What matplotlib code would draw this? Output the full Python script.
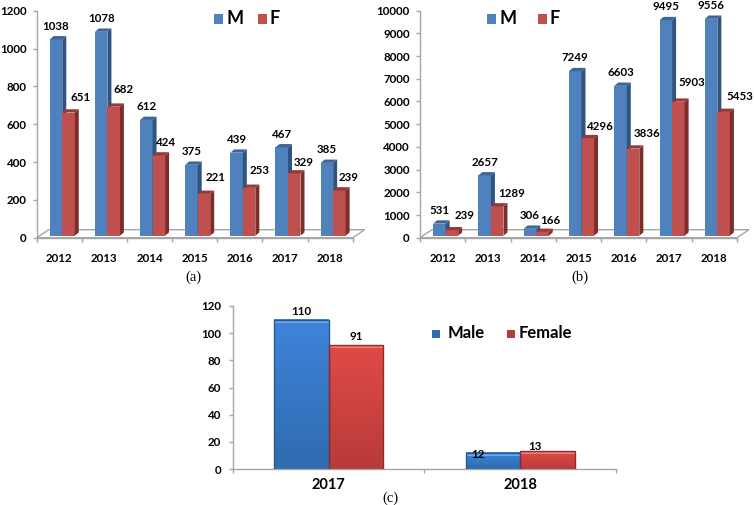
"""Three-panel male / female yearly counts, Excel style pseudo-3D bars."""
import matplotlib
matplotlib.use("Agg")
import matplotlib.pyplot as plt
import numpy as np
from matplotlib.patches import Polygon, Rectangle
from matplotlib.transforms import Affine2D, IdentityTransform

W, H = 754, 505

YEARS = ["2012", "2013", "2014", "2015", "2016", "2017", "2018"]

A_MALE = [1038, 1078, 612, 375, 439, 467, 385]
A_FEMALE = [651, 682, 424, 221, 253, 329, 239]
A_TICKS = [0, 200, 400, 600, 800, 1000, 1200]

B_MALE = [531, 2657, 306, 7249, 6603, 9495, 9556]
B_FEMALE = [239, 1289, 166, 4296, 3836, 5903, 5453]
B_TICKS = [0, 1000, 2000, 3000, 4000, 5000, 6000, 7000, 8000, 9000, 10000]

C_YEARS = ["2017", "2018"]
C_MALE = [110, 12]
C_FEMALE = [91, 13]
C_TICKS = [0, 20, 40, 60, 80, 100, 120]

# hand placed label offsets (pixels from the top of the bar front)
A_F_LABEL_OFFSETS = [(12, 15), (10, 17), (7, 13), (12, 16), (11, 17), (9, 11), (9, 13)]
B_F_LABEL_OFFSETS = [(13, 15), (14, 13), (8, 11), (13, 12), (14, 15), (14, 19), (16.5, 15)]
C_M_LABEL_OFFSETS = [(0, 8), (-15, -2)]
C_F_LABEL_OFFSETS = [(0, 9), (-13, 5)]

BLUE = ("#4f81bd", "#2f5480", "#3c6699")
RED = ("#c0504d", "#7b2e2c", "#96393a")
AXIS_GREY = "#a6a6a6"
FONT = "Lato"
TEXT_SIZE = 8.3

plt.rcParams["font.family"] = [FONT, "DejaVu Sans"]
plt.rcParams["font.weight"] = "bold"

fig = plt.figure(figsize=(W / 100, H / 100), dpi=100, facecolor="white")


def box_axes(x0, x1, y_top, y_bottom):
    ax = fig.add_axes([x0 / W, 1 - y_bottom / H, (x1 - x0) / W, (y_bottom - y_top) / H])
    ax.patch.set_alpha(0)
    for side in ("top", "right"):
        ax.spines[side].set_visible(False)
    for side in ("left", "bottom"):
        ax.spines[side].set_color(AXIS_GREY)
        ax.spines[side].set_linewidth(1.0)
    return ax


def style_axes(ax, years, ticks, year_size, year_pad):
    ax.set_xlim(0, len(years))
    ax.set_ylim(ticks[0], ticks[-1])
    ax.set_yticks(ticks)
    ax.set_xticks(np.arange(len(years) + 1))
    ax.set_xticklabels([])
    ax.set_xticks(np.arange(len(years)) + 0.5, minor=True)
    ax.set_xticklabels(years, minor=True, fontsize=year_size)
    ax.tick_params(axis="x", which="minor", length=0, pad=year_pad)
    ax.tick_params(axis="both", which="major", length=3, width=1, color=AXIS_GREY)
    ax.tick_params(axis="y", labelsize=TEXT_SIZE, pad=4.3)


def bars_3d(ax, centers, values, width, colors, shift, depth):
    """Front face through ax.bar, then side and top faces in pixel space."""
    trans = ax.transData + Affine2D().translate(*shift)
    ax.bar(centers, values, width, color=colors[0], transform=trans,
           clip_on=False, zorder=3)
    for c, v in zip(centers, values):
        (xl, yb), (xr, yt) = trans.transform([(c - width / 2, 0), (c + width / 2, v)])
        dx, dy = depth
        side = [(xr, yb), (xr + dx, yb + dy), (xr + dx, yt + dy), (xr, yt)]
        top = [(xl, yt), (xr, yt), (xr + dx, yt + dy), (xl + dx, yt + dy)]
        for verts, col in ((side, colors[1]), (top, colors[2])):
            ax.add_patch(Polygon(verts, closed=True, facecolor=col, edgecolor="none",
                                 transform=IdentityTransform(), clip_on=False, zorder=3))


def floor(ax, dx, dy):
    (x0, y0), (x1, _) = ax.transData.transform([(ax.get_xlim()[0], 0), (ax.get_xlim()[1], 0)])
    verts = [(x0, y0), (x0 + dx, y0 + dy), (x1 + dx, y0 + dy), (x1, y0)]
    ax.add_patch(Polygon(verts, closed=True, facecolor="white", edgecolor=AXIS_GREY,
                         linewidth=1.0, transform=IdentityTransform(), clip_on=False, zorder=1))


def label(ax, x, y, text, shift, offset, size=TEXT_SIZE):
    base = ax.transData.transform((x, y))
    ax.annotate(text, xy=(base[0] + shift[0], base[1] + shift[1]), xycoords="figure pixels",
                xytext=offset, textcoords="offset pixels", ha="center", va="center",
                fontsize=size, color="black", annotation_clip=False, zorder=5)


def legend_box(x, y, size, color):
    fig.add_artist(Rectangle((x / W, 1 - (y + size) / H), size / W, size / H,
                             transform=fig.transFigure, facecolor=color, edgecolor="none"))


def legend_text(x, y, text, size, ha="center"):
    fig.text(x / W, 1 - y / H, text, fontsize=size, ha=ha, va="center")


def panel_3d(x0, x1, male, female, ticks, f_offsets, legend_x):
    ax = box_axes(x0, x1, 10.7, 237.7)
    style_axes(ax, YEARS, ticks, TEXT_SIZE, 11)
    floor(ax, 12, 8)
    n = np.arange(len(YEARS))
    width = 0.277
    shift = (3, 2)
    depth = (4, 3.3)
    bars_3d(ax, n + 0.5 - width / 2, male, width, BLUE, shift, depth)
    bars_3d(ax, n + 0.5 + width / 2, female, width, RED, shift, depth)
    for i, v in enumerate(male):
        label(ax, i + 0.5 - width / 2, v, str(v), shift, (0, 13.3))
    for i, v in enumerate(female):
        label(ax, i + 0.5 + width / 2, v, str(v), shift, f_offsets[i])
    legend_box(legend_x[0], 14.3, 9.5, BLUE[0])
    legend_text(legend_x[0] + 22, 19, "M", 13)
    legend_box(legend_x[1], 14.3, 9.5, RED[0])
    legend_text(legend_x[1] + 17, 19, "F", 13)
    return ax


def gradient_bar(ax, center, value, width, top_col, bottom_col, edge, gloss):
    ramp = np.linspace(0, 1, 64)[:, None, None]
    top = np.array(matplotlib.colors.to_rgb(top_col))[None, None, :]
    bottom = np.array(matplotlib.colors.to_rgb(bottom_col))[None, None, :]
    ax.imshow(top + (bottom - top) * ramp, aspect="auto", zorder=2, clip_on=False,
              extent=(center - width / 2, center + width / 2, 0, value))
    # light strip along the top edge, 3 px high
    (xl, _), (xr, yt) = ax.transData.transform([(center - width / 2, 0), (center + width / 2, value)])
    ax.add_patch(Rectangle((xl, yt - 3), xr - xl, 3, facecolor=gloss, edgecolor="none",
                           transform=IdentityTransform(), clip_on=False, zorder=2.5))
    ax.bar(center, value, width, facecolor="none", edgecolor=edge, linewidth=1.0, zorder=3)


panel_3d(36.7, 352.7, A_MALE, A_FEMALE, A_TICKS, A_F_LABEL_OFFSETS, (213.5, 257.5))
panel_3d(420, 737, B_MALE, B_FEMALE, B_TICKS, B_F_LABEL_OFFSETS, (486.5, 537.5))

# panel (c) is flat, with the glossy gradient bars
ax_c = box_axes(232.7, 616, 306, 469)
style_axes(ax_c, C_YEARS, C_TICKS, 10.5, 6.5)
ax_c.tick_params(axis="y", pad=5.5)
bar_w = 0.285
for i, (m, f) in enumerate(zip(C_MALE, C_FEMALE)):
    gradient_bar(ax_c, i + 0.5 - bar_w / 2, m, bar_w, "#3f84da", "#2f6cb0", "#28598f", "#6aa8ec")
    gradient_bar(ax_c, i + 0.5 + bar_w / 2, f, bar_w, "#e04a47", "#b83b39", "#8e2c2b", "#ee7a76")
    label(ax_c, i + 0.5 - bar_w / 2, m, str(m), (0, 0), C_M_LABEL_OFFSETS[i])
    label(ax_c, i + 0.5 + bar_w / 2, f, str(f), (0, 0), C_F_LABEL_OFFSETS[i])
ax_c.set_xlim(0, 2)
ax_c.set_ylim(0, 120)

legend_box(431.7, 329.5, 8.5, "#2f6cb5")
legend_text(447.5, 333.5, "Male", 12, ha="left")
legend_box(506.7, 329.5, 8.5, "#b53a38")
legend_text(519, 333.5, "Female", 12, ha="left")

for x, y, name in ((193, 277, "(a)"), (580, 277, "(b)"), (390, 498.5, "(c)")):
    fig.text(x / W, 1 - y / H, name, family="Liberation Serif", fontweight="normal",
             fontsize=10.5, ha="center", va="center")

fig.savefig("out.png", dpi=100)
